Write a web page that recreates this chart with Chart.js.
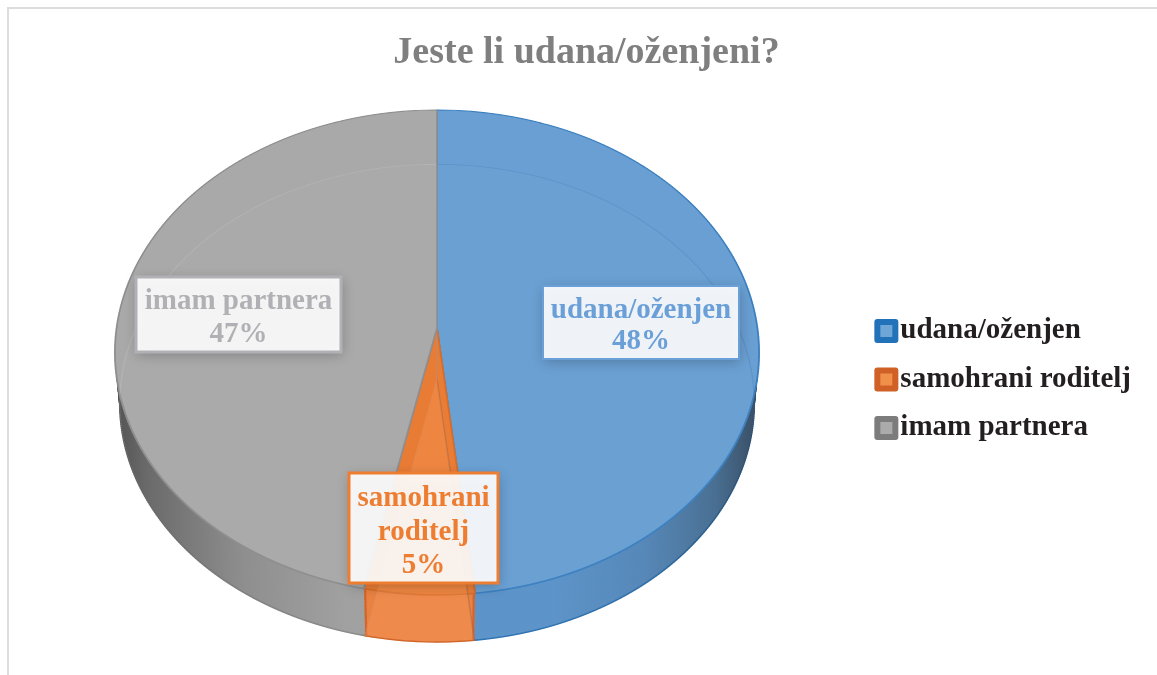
<!DOCTYPE html>
<html>
<head>
<meta charset="utf-8">
<style>
html,body{margin:0;padding:0;background:#fff;overflow:hidden}
#frame{position:absolute;left:7px;top:7px;right:0;bottom:0;border-left:2px solid #dcdcdc;border-top:2px solid #dcdcdc}
canvas{position:absolute;left:0;top:0}
</style>
<script src="https://cdn.jsdelivr.net/npm/chart.js@4"></script>
</head>
<body>
<div id="frame"></div>
<canvas id="c" width="1157" height="675"></canvas>
<script>
const titleText = 'Jeste li udana/oženjeni?';
const categories = ['udana/oženjen', 'samohrani roditelj', 'imam partnera'];
const shares = [48.3, 5, 46.7];
const labelLines = [['udana/oženjen'], ['samohrani', 'roditelj'], ['imam partnera']];

const faceColors = ['#699fd3', '#e97b33', '#a9a9a9'];
const faceBorders = ['#3a7fbf', '#d96c27', '#8e8e8e'];
const sideColors = ['#5b93c9', '#e98040', '#a0a0a0'];
const sideBorders = ['#2e75b6', '#cf6126', '#7d7d7d'];
const seeThroughFill = ['rgba(255,255,255,0.015)', 'rgba(255,175,120,0.22)', 'rgba(255,255,255,0.01)'];
const seeThroughLine = ['rgba(50,110,170,0.22)', 'rgba(205,95,30,0.28)', 'rgba(255,255,255,0.12)'];
const labelColors = ['#6a9fd8', '#ed7d31', '#b1b1b5'];
const labelBorders = ['#6a9fd8', '#ed7d31', '#b1b1b5'];
const labelBorderWidths = [2, 3, 3];
const legendOuter = ['#2272b9', '#cf6126', '#7c7c7c'];
const legendInner = ['#6ea6d8', '#f0904a', '#ababab'];

// projection of the round pie onto the tilted plate
const view = {cx: 437, cy: 328, a: 240, b: 320.4, k: -0.101, strip: 2};
const depth = {layers: 25, shrink: 0.015, drop: 51};
const labelBoxes = [
  {x: 543, y: 286, w: 196, h: 73, lines: [311, 342]},
  {x: 349, y: 473, w: 149, h: 110, lines: [497, 531, 564]},
  {x: 136, y: 277, w: 205, h: 75, lines: [300, 333]}
];
const legendShift = 42;

function paintArc(chart, arc, f, off) {
  const ctx = chart.ctx;
  const sx = arc.x, sy = arc.y, R = arc.outerRadius;
  const {cx, cy, a, b, k, strip} = view;
  const top = Math.floor(cy - 220 * f + off), bottom = Math.ceil(cy + 270 * f + off);
  for (let Y = top; Y < bottom; Y += strip) {
    const t0 = (Y - off - cy) / f, t1 = (Y + strip - off - cy) / f;
    const y0 = t0 / (a - k * t0), y1 = t1 / (a - k * t1);
    const ym = (y0 + y1) / 2;
    const hs = f * b / (1 + k * ym) / R;
    const vs = strip / (R * (y1 - y0));
    ctx.save();
    ctx.beginPath();
    ctx.rect(0, Y, chart.width, strip);
    ctx.clip();
    ctx.setTransform(hs, 0, 0, vs, cx - hs * sx, Y - vs * (sy + R * y0));
    arc.draw(ctx);
    ctx.restore();
  }
}

function drawPlate(chart, f, off, style) {
  chart.getDatasetMeta(0).data.forEach((arc, i) => {
    const saved = arc.options;
    arc.options = Object.assign({}, saved, style(i));
    paintArc(chart, arc, f, off);
    arc.options = saved;
  });
}

// thin wedge on each edge of the small slice, stacked through the plate's depth
function drawSeam(chart, f, off) {
  const arc = chart.getDatasetMeta(0).data[1];
  const saved = {o: arc.options, s: arc.startAngle, e: arc.endAngle, c: arc.circumference};
  const w = 0.006;
  arc.options = Object.assign({}, saved.o, {backgroundColor: sideBorders[1], borderWidth: 0});
  [saved.s, saved.e - w].forEach(start => {
    arc.startAngle = start; arc.endAngle = start + w; arc.circumference = w;
    paintArc(chart, arc, f, off);
  });
  arc.options = saved.o; arc.startAngle = saved.s; arc.endAngle = saved.e; arc.circumference = saved.c;
}

const platePlugin = {
  id: 'plate',
  afterLayout(chart) {
    const lg = chart.legend;
    lg.top += legendShift; lg.bottom += legendShift;
    lg.legendHitBoxes.forEach(h => { h.top += legendShift; });
  },
  beforeDatasetsDraw(chart) {
    const ctx = chart.ctx;
    for (let n = depth.layers; n >= 1; n--) {
      const p = n / depth.layers;
      const f = 1 - depth.shrink * p, off = depth.drop * p;
      drawPlate(chart, f, off, i => n === depth.layers
        ? {backgroundColor: sideColors[i], borderColor: sideBorders[i], borderWidth: 1.4}
        : {backgroundColor: sideColors[i], borderWidth: 0});
      drawSeam(chart, f, off);
    }
    ctx.save();
    ctx.globalCompositeOperation = 'source-atop';
    const g = ctx.createLinearGradient(115, 0, 760, 0);
    [[0, .6], [.05, .42], [.2, .14], [.36, 0], [.68, 0], [.82, .1], [.93, .32], [1, .62]]
      .forEach(s => g.addColorStop(s[0], 'rgba(30,30,30,' + s[1] + ')'));
    ctx.fillStyle = g;
    ctx.fillRect(100, 340, 680, 320);
    ctx.restore();
    drawPlate(chart, 1, 0, i => ({
      backgroundColor: faceColors[i], borderColor: faceBorders[i], borderWidth: 1.6
    }));
    drawPlate(chart, 1 - depth.shrink, depth.drop, i => ({
      backgroundColor: seeThroughFill[i], borderColor: seeThroughLine[i], borderWidth: 1.2
    }));
    return false;
  },
  afterDraw(chart) {
    const ctx = chart.ctx;
    labelBoxes.forEach((box, i) => {
      ctx.save();
      ctx.shadowColor = 'rgba(0,0,0,0.26)';
      ctx.shadowBlur = 12;
      ctx.shadowOffsetY = 3;
      ctx.shadowOffsetX = 1;
      ctx.fillStyle = 'rgba(255,255,255,0.91)';
      ctx.fillRect(box.x, box.y, box.w, box.h);
      ctx.shadowColor = 'transparent';
      ctx.strokeStyle = labelBorders[i];
      ctx.lineWidth = labelBorderWidths[i];
      ctx.strokeRect(box.x, box.y, box.w, box.h);
      ctx.fillStyle = labelColors[i];
      ctx.font = 'bold 29px "Liberation Serif"';
      ctx.textAlign = 'center';
      ctx.textBaseline = 'middle';
      const text = labelLines[i].concat(Math.round(shares[i]) + '%');
      text.forEach((t, j) => ctx.fillText(t, box.x + box.w / 2, box.lines[j] + (i === 0 ? 0 : 2)));
      ctx.restore();
    });
    chart.legend.legendHitBoxes.forEach((h, i) => {
      const mx = h.left, my = h.top + h.height / 2 - 12;
      ctx.save();
      ctx.fillStyle = legendOuter[i];
      ctx.beginPath();
      ctx.roundRect(mx, my, 24, 24, 3);
      ctx.fill();
      ctx.fillStyle = legendInner[i];
      ctx.fillRect(mx + 6, my + 6, 12, 12);
      ctx.restore();
    });
  }
};

new Chart(document.getElementById('c'), {
  type: 'pie',
  data: {
    labels: categories,
    datasets: [{data: shares, backgroundColor: faceColors, borderColor: faceBorders, borderWidth: 1.6}]
  },
  plugins: [platePlugin],
  options: {
    responsive: false,
    animation: false,
    events: [],
    layout: {padding: {left: 32, right: 16, top: 0, bottom: 0}},
    plugins: {
      tooltip: {enabled: false},
      title: {
        display: true,
        text: titleText,
        color: '#7f7f7f',
        font: {family: '"Liberation Serif"', size: 38, weight: 'bold'},
        padding: {top: 30, bottom: 10}
      },
      legend: {
        display: true,
        position: 'right',
        labels: {
          boxWidth: 11.5,
          boxHeight: 13,
          padding: 19.5,
          color: '#231f20',
          font: {family: '"Liberation Serif"', size: 29, weight: 'bold'},
          generateLabels: chart => chart.data.labels.map((t, i) => ({
            text: t, index: i, fillStyle: 'rgba(0,0,0,0)', strokeStyle: 'rgba(0,0,0,0)', fontColor: '#231f20', lineWidth: 0, hidden: false
          }))
        }
      }
    }
  }
});
</script>
</body>
</html>
